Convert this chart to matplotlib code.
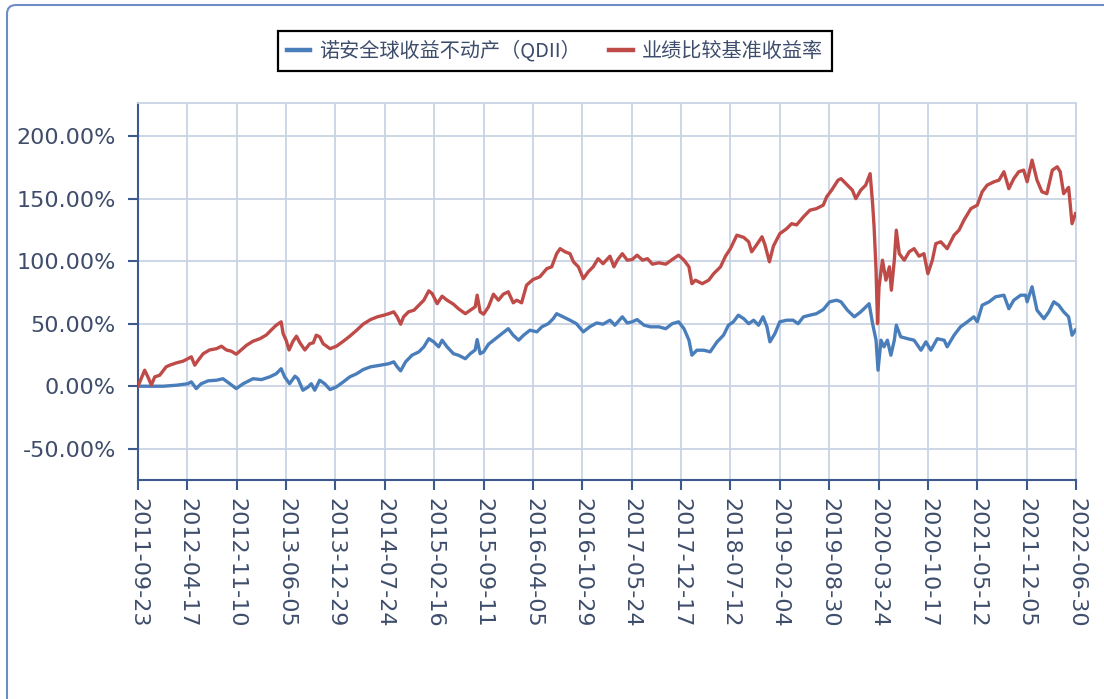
import numpy as np
import matplotlib
matplotlib.use("Agg")
import matplotlib.pyplot as plt
from matplotlib.patches import FancyBboxPatch
from matplotlib.transforms import IdentityTransform
from matplotlib.ticker import FuncFormatter

plt.rcParams['font.family'] = ['DejaVu Sans', 'Noto Sans CJK SC']

tick_labels = ['2011-09-23', '2012-04-17', '2012-11-10', '2013-06-05', '2013-12-29',
               '2014-07-24', '2015-02-16', '2015-09-11', '2016-04-05', '2016-10-29',
               '2017-05-24', '2017-12-17', '2018-07-12', '2019-02-04', '2019-08-30',
               '2020-03-24', '2020-10-17', '2021-05-12', '2021-12-05', '2022-06-30']

# position along the date axis, in units of one label step (207 days)
fund_pos = [0, 0.51, 0.78, 1.01, 1.08, 1.18, 1.28, 1.42, 1.59, 1.72, 1.86, 1.99, 2.13, 2.33, 2.5,
            2.67, 2.8, 2.9, 2.97, 3.07, 3.18, 3.24, 3.34, 3.45, 3.51, 3.58, 3.68, 3.78, 3.89, 4.02,
            4.16, 4.29, 4.43, 4.56, 4.71, 4.91, 5.08, 5.18, 5.25, 5.32, 5.42, 5.55, 5.69, 5.79, 5.89,
            5.99, 6.09, 6.16, 6.26, 6.39, 6.49, 6.63, 6.73, 6.83, 6.87, 6.93, 7.0, 7.1, 7.24, 7.37,
            7.5, 7.6, 7.71, 7.81, 7.94, 8.08, 8.18, 8.31, 8.41, 8.48, 8.61, 8.75, 8.88, 9.02, 9.15,
            9.29, 9.42, 9.56, 9.66, 9.81, 9.91, 10.01, 10.11, 10.25, 10.38, 10.55, 10.69, 10.82, 10.95,
            11.06, 11.16, 11.22, 11.32, 11.46, 11.59, 11.73, 11.86, 11.96, 12.06, 12.16, 12.27, 12.37,
            12.47, 12.57, 12.66, 12.74, 12.8, 12.9, 13.0, 13.14, 13.27, 13.37, 13.48, 13.61, 13.74,
            13.88, 14.01, 14.15, 14.24, 14.37, 14.51, 14.64, 14.81, 14.88, 14.95, 14.99, 15.05, 15.11,
            15.18, 15.25, 15.32, 15.36, 15.45, 15.59, 15.72, 15.86, 15.96, 16.06, 16.19, 16.33, 16.39,
            16.53, 16.66, 16.8, 16.93, 17.0, 17.1, 17.24, 17.37, 17.54, 17.64, 17.74, 17.88, 17.98,
            18.01, 18.11, 18.21, 18.35, 18.45, 18.55, 18.65, 18.75, 18.85, 18.92, 18.99]
fund_ret = [0, 0, 0.8, 2, 3.5, -1.9, 2, 4.3, 4.8, 6, 2, -1.9, 2, 6, 5.3,
            7.5, 10, 14, 7.5, 2, 8, 6, -3.2, -0.5, 2, -3.2, 4.8, 2, -2.7, -0.5,
            3.5, 7.5, 10, 13.3, 15.5, 16.8, 18, 19.5, 15.5, 12.3, 19.5, 24.8, 27.5, 31.5, 38,
            35.5, 31.5, 36.8, 31.5, 26, 24.8, 22, 26, 29, 37.3, 26, 27.5, 33.6, 38, 42,
            46, 40.8, 36.8, 40.8, 44.8, 43.5, 47.5, 50, 54, 58, 55.5, 52.8, 50, 43.5, 47.5,
            50.6, 49.6, 52.8, 48.8, 55.5, 50.6, 51.5, 53.3, 48.8, 47.5, 47.5, 46, 50, 51.5,
            46, 36.8, 24.8, 28.8, 28.8, 27.5, 35.5, 40.8, 48.8, 51.5, 56.8, 54, 50,
            52.8, 48.8, 55.5, 47.5, 35.5, 42, 51.5, 52.8, 52.8, 50, 55.5, 56.8, 58,
            61.3, 67.5, 68.8, 67.5, 60.8, 55.5, 59.5, 66, 50, 36.8, 12.8, 36.8, 31.5,
            36.8, 24.8, 36.8, 48.8, 39.5, 38, 36.8, 28.8, 35.5, 28.8, 38, 36.8, 31.5,
            40.8, 47.5, 51.5, 55.5, 51.5, 64.8, 67.5, 71.5, 72.8, 62, 68.8, 72.8, 72.8,
            67.5, 79.5, 60.8, 54, 59.5, 67.5, 64.8, 59.5, 55.5, 40.8, 45]

bench_pos = [0, 0.135, 0.2, 0.27, 0.34, 0.44, 0.57, 0.64, 0.78, 0.91, 1.01, 1.08, 1.15, 1.22, 1.32,
             1.45, 1.59, 1.69, 1.79, 1.89, 1.99, 2.09, 2.2, 2.33, 2.47, 2.6, 2.7, 2.8, 2.9, 2.94,
             3.0, 3.06, 3.14, 3.21, 3.28, 3.38, 3.48, 3.55, 3.61, 3.68, 3.75, 3.89, 4.02, 4.16, 4.29,
             4.43, 4.56, 4.71, 4.85, 4.98, 5.08, 5.18, 5.25, 5.32, 5.38, 5.48, 5.59, 5.69, 5.79, 5.89,
             5.96, 6.06, 6.16, 6.26, 6.39, 6.49, 6.63, 6.73, 6.83, 6.87, 6.93, 7.0, 7.1, 7.2, 7.3,
             7.4, 7.5, 7.6, 7.67, 7.77, 7.87, 8.0, 8.14, 8.28, 8.38, 8.48, 8.55, 8.65, 8.75, 8.82,
             8.92, 9.02, 9.12, 9.22, 9.32, 9.42, 9.56, 9.64, 9.71, 9.81, 9.91, 10.01, 10.11, 10.22,
             10.32, 10.42, 10.55, 10.69, 10.82, 10.95, 11.06, 11.16, 11.22, 11.29, 11.43, 11.56, 11.66,
             11.8, 11.9, 12.0, 12.13, 12.27, 12.37, 12.43, 12.53, 12.64, 12.7, 12.79, 12.87, 13.0,
             13.14, 13.24, 13.34, 13.48, 13.61, 13.74, 13.88, 13.95, 14.05, 14.18, 14.24, 14.37, 14.47,
             14.54, 14.64, 14.74, 14.83, 14.88, 14.91, 14.95, 14.98, 15.01, 15.08, 15.15, 15.22, 15.26,
             15.32, 15.36, 15.42, 15.52, 15.62, 15.72, 15.82, 15.92, 16.0, 16.09, 16.16, 16.26, 16.39,
             16.53, 16.63, 16.73, 16.87, 17.0, 17.1, 17.2, 17.34, 17.44, 17.54, 17.64, 17.74, 17.84,
             17.94, 18.01, 18.11, 18.21, 18.31, 18.41, 18.52, 18.62, 18.68, 18.75, 18.85, 18.92, 18.99]
bench_ret = [0, 12.8, 7.5, 1, 7.5, 8.8, 15.5, 16.8, 18.7, 20, 22, 23.5, 16.8, 20.8, 26,
             29, 30, 32, 29, 28, 25.6, 29, 32.8, 36, 38, 41, 45, 48.8, 51.5, 42,
             36.8, 29, 36, 40, 34.7, 29, 34, 34.7, 40.8, 39.5, 34, 30, 32, 36, 40,
             44.8, 49.6, 53.3, 55.5, 56.8, 58, 59.5, 55.5, 49.6, 55.5, 59.5, 60.8, 64.8, 68.8, 76.3,
             74, 66, 72, 68.8, 65.6, 62, 58, 60.8, 63.5, 72.8, 59.5, 57.6, 63.5, 73.6, 68.8,
             73.6, 75.5, 66.7, 68.8, 66.7, 80.8, 85.3, 87.5, 94, 95.5, 106, 110, 107.5, 106, 99.5,
             95.5, 86, 91.5, 95.5, 102, 98, 104, 95.5, 100.8, 106, 100.8, 101.3, 104.8, 100.8,
             102, 97.6, 98.7, 97.6, 101.3, 104.8, 100.8, 95.5, 82, 84.8, 82, 84.8, 90,
             95.5, 104, 110, 120.8, 119, 115.5, 107.5, 113, 119.5, 113, 99.5, 112, 122,
             126, 130, 129, 135.5, 140.8, 142, 144.8, 151.5, 156.8, 164.8, 166, 160.8, 156.8,
             150, 156.8, 160.8, 170, 146, 127.5, 92.8, 50, 79.5, 100.8, 84.8, 95.5, 76.8,
             100.8, 124.8, 106, 100.8, 107.5, 110, 104, 106, 90, 100.8, 114, 115.5, 110,
             120.8, 124.8, 132.8, 142, 144.8, 155.5, 160.8, 163.5, 164.8, 171.5, 158, 166, 171.5,
             172.8, 163.5, 180.8, 164.8, 155.5, 154, 172.8, 175.5, 171.5, 154, 159, 130, 138]

series_names = ['诺安全球收益不动产（QDII）', '业绩比较基准收益率']
y_ticks = [-50, 0, 50, 100, 150, 200]

axis_col = '#3d5a8c'
grid_col = '#c9d3e4'
text_col = '#3e4d6b'

fig = plt.figure(figsize=(11.04, 6.99), dpi=100)
ax = fig.add_axes([138 / 1104, 1 - 480 / 699, (1076 - 138) / 1104, (480 - 103) / 699])

# outer rounded frame
frame = FancyBboxPatch((7, -40), 1150, 699 - 5 + 40, boxstyle="round,pad=0,rounding_size=9",
                       transform=IdentityTransform(), facecolor='none', edgecolor='#6d8cc6',
                       linewidth=1.5, zorder=0)
fig.patches.append(frame)

ax.plot(fund_pos, fund_ret, color='#4a7ebb', linewidth=2.4, label=series_names[0], zorder=3)
ax.plot(bench_pos, bench_ret, color='#be4b48', linewidth=2.4, label=series_names[1], zorder=3)

ax.set_xlim(0, len(tick_labels) - 1)
ax.set_ylim(-75, 226.5)
ax.set_xticks(range(len(tick_labels)))
ax.set_xticklabels(tick_labels, rotation=270, fontsize=16, color=text_col)
ax.set_yticks(y_ticks)
ax.yaxis.set_major_formatter(FuncFormatter(lambda v, p: f'{v:.2f}%'))
ax.tick_params(axis='y', labelsize=16, labelcolor=text_col, color=axis_col, length=7, width=1.5, pad=9)
ax.tick_params(axis='x', color=axis_col, length=7, width=1.5, pad=6)
ax.grid(True, color=grid_col, linewidth=1.3, zorder=0)
ax.set_axisbelow(True)

for side in ['left', 'bottom']:
    ax.spines[side].set_color(axis_col)
    ax.spines[side].set_linewidth(1.5)
for side in ['top', 'right']:
    ax.spines[side].set_color(grid_col)
    ax.spines[side].set_linewidth(1.3)

leg = fig.legend(loc='center', bbox_to_anchor=(555 / 1104, 1 - 51 / 699), ncol=2,
                 frameon=True, fancybox=False, framealpha=1, edgecolor='black',
                 handlelength=1.15, handletextpad=0.45, columnspacing=1.4,
                 borderpad=0.45, prop={'family': ['Noto Sans CJK SC', 'DejaVu Sans'], 'size': 14.5})
leg.get_frame().set_linewidth(1.6)
for line in leg.get_lines():
    line.set_linewidth(3.2)
for t in leg.get_texts():
    t.set_color(text_col)

fig.savefig('out.png', dpi=100)
